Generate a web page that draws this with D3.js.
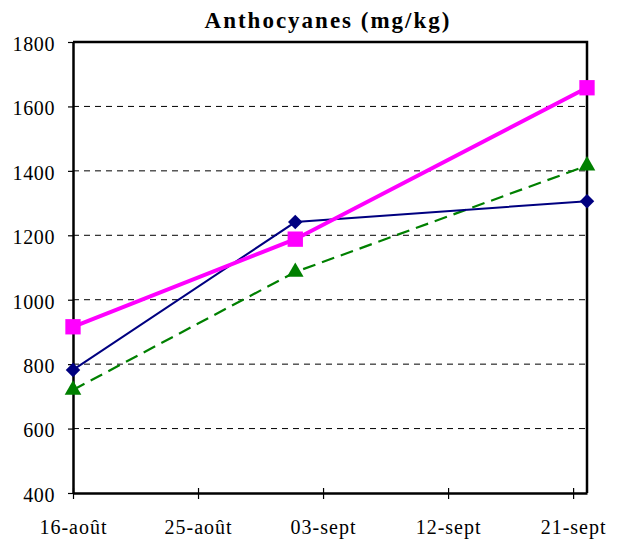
<!DOCTYPE html>
<html>
<head>
<meta charset="utf-8">
<script src="https://cdn.jsdelivr.net/npm/d3@7"></script>
<style>
  body { margin: 0; background: #fff; }
</style>
</head>
<body>
<svg id="chart" width="621" height="544"></svg>
<script>
// Sampling dates and anthocyanin content (mg/kg) per series
const dates = ["2003-08-16", "2003-09-01", "2003-09-22"];
const serieBleu = [782, 1241, 1306];
const serieRose = [916, 1188, 1658];
const serieVerte = [720, 1086, 1416];
const xTickDates = ["2003-08-16", "2003-08-25", "2003-09-03", "2003-09-12", "2003-09-21"];
const yTicks = [400, 600, 800, 1000, 1200, 1400, 1600, 1800];
const titre = "Anthocyanes (mg/kg)";

const serif = "'Liberation Serif'";
const parse = d3.timeParse("%Y-%m-%d");
const fmtFr = d => {
  const mois = d.getMonth() === 7 ? "août" : "sept";
  return d3.timeFormat("%d")(d) + "-" + mois;
};

const svg = d3.select("#chart");
const m = { left: 73, right: 587, top: 42, bottom: 493 };

const x = d3.scaleTime()
  .domain([parse("2003-08-16"), parse("2003-09-22")])
  .range([m.left, m.right]);
const y = d3.scaleLinear().domain([400, 1800]).range([m.bottom, m.top]);

// Horizontal dashed gridlines
svg.append("g").selectAll("line")
  .data(yTicks.filter(v => v > 400 && v < 1800))
  .join("line")
  .attr("x1", m.left).attr("x2", m.right)
  .attr("y1", d => y(d)).attr("y2", d => y(d))
  .attr("stroke", "#000").attr("stroke-width", 1)
  .attr("stroke-dasharray", "6,5");

// Frame top and right
svg.append("path")
  .attr("d", `M${m.left},${m.top}H${m.right}V${m.bottom}`)
  .attr("fill", "none").attr("stroke", "#000").attr("stroke-width", 2.5);

// Y axis
const yAxis = svg.append("g")
  .attr("transform", `translate(${m.left},0)`)
  .call(d3.axisLeft(y).tickValues(yTicks).tickFormat(d3.format("d"))
    .tickSize(5).tickSizeOuter(0).tickPadding(13));
yAxis.attr("font-family", null).attr("font-size", null);
yAxis.select(".domain").attr("stroke-width", 2.5);
yAxis.selectAll(".tick line").attr("stroke-width", 1.2);
yAxis.selectAll("text")
  .attr("dy", "0.42em")
  .attr("fill", "#000")
  .style("font-family", serif).style("font-size", "20px")
  .style("letter-spacing", "0.6px");

// X axis
const xAxis = svg.append("g")
  .attr("transform", `translate(0,${m.bottom})`)
  .call(d3.axisBottom(x).tickValues(xTickDates.map(parse)).tickFormat(fmtFr)
    .tickSize(5).tickSizeOuter(0).tickPadding(22));
xAxis.attr("font-family", null).attr("font-size", null);
xAxis.select(".domain").attr("stroke-width", 2.5);
xAxis.selectAll(".tick line").attr("y1", -5).attr("y2", 6).attr("stroke-width", 1.2);
xAxis.selectAll("text")
  .attr("fill", "#000")
  .style("font-family", serif).style("font-size", "20px")
  .style("letter-spacing", "1px");

// Title
svg.append("text")
  .attr("x", 328).attr("y", 28)
  .attr("text-anchor", "middle")
  .style("font-family", serif).style("font-size", "23px")
  .style("font-weight", "bold").style("letter-spacing", "2px")
  .text(titre);

const pts = vals => vals.map((v, i) => ({ d: parse(dates[i]), v }));
const line = d3.line().x(p => x(p.d)).y(p => y(p.v));

// Green dashed series with triangles
svg.append("path").datum(pts(serieVerte))
  .attr("d", line).attr("fill", "none")
  .attr("stroke", "#008000").attr("stroke-width", 2.2)
  .attr("stroke-dasharray", "13,7");
svg.append("g").selectAll("path").data(pts(serieVerte)).join("path")
  .attr("transform", p => `translate(${x(p.d)},${y(p.v)})`)
  .attr("d", d3.symbol(d3.symbolTriangle, 120))
  .attr("fill", "#008000");

// Navy series with diamonds
svg.append("path").datum(pts(serieBleu))
  .attr("d", line).attr("fill", "none")
  .attr("stroke", "#000080").attr("stroke-width", 2);
svg.append("g").selectAll("path").data(pts(serieBleu)).join("path")
  .attr("transform", p => `translate(${x(p.d)},${y(p.v)}) rotate(45)`)
  .attr("d", d3.symbol(d3.symbolSquare, 105))
  .attr("fill", "#000080");

// Magenta series with squares
svg.append("path").datum(pts(serieRose))
  .attr("d", line).attr("fill", "none")
  .attr("stroke", "#ff00ff").attr("stroke-width", 4);
svg.append("g").selectAll("path").data(pts(serieRose)).join("path")
  .attr("transform", p => `translate(${x(p.d)},${y(p.v)})`)
  .attr("d", d3.symbol(d3.symbolSquare, 235))
  .attr("fill", "#ff00ff");
</script>
</body>
</html>
